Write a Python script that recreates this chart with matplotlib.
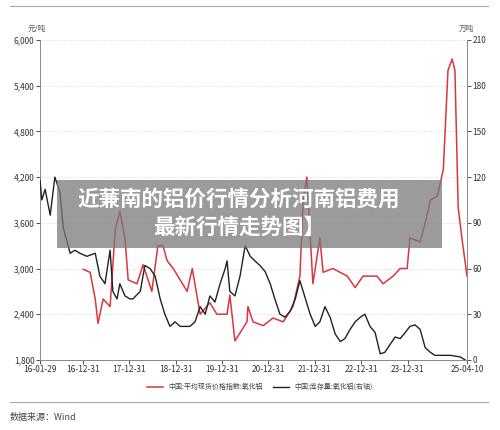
import matplotlib
matplotlib.use('Agg')
import matplotlib.pyplot as plt
from matplotlib.lines import Line2D
from matplotlib.patches import Rectangle

plt.rcParams['font.family'] = ['Noto Sans CJK SC', 'DejaVu Sans']

# price index (yuan/t), time in fractional years
price_t = [2017.01, 2017.16, 2017.27, 2017.33, 2017.44, 2017.59, 2017.70, 2017.80, 2017.91, 2017.98,
           2018.17, 2018.30, 2018.49, 2018.62, 2018.73, 2018.82, 2018.95, 2019.25, 2019.36, 2019.53,
           2019.74, 2019.89, 2020.11, 2020.17, 2020.28, 2020.54, 2020.56, 2020.67, 2020.89, 2021.10,
           2021.32, 2021.53, 2021.68, 2021.75, 2021.83, 2021.96, 2022.11, 2022.18, 2022.39, 2022.70,
           2022.87, 2023.04, 2023.34, 2023.47, 2023.69, 2023.84, 2023.99, 2024.05, 2024.27, 2024.38,
           2024.49, 2024.64, 2024.77, 2024.87, 2024.96, 2025.02, 2025.09, 2025.17, 2025.28]
price = [2990, 2950, 2600, 2280, 2600, 2500, 3500, 3750, 3400, 2850,
         2800, 3050, 2700, 3300, 3300, 3100, 3000, 2700, 3000, 2400,
         2550, 2400, 2400, 2650, 2050, 2300, 2500, 2300, 2250, 2350,
         2300, 2500, 2900, 3900, 4200, 2800, 3400, 2950, 3000, 2900,
         2750, 2900, 2900, 2800, 2900, 3000, 3000, 3400, 3350, 3600,
         3900, 3950, 4300, 5600, 5750, 5600, 3800, 3400, 2900]

# inventory (10k t), right axis
stock_t = [2016.08, 2016.12, 2016.19, 2016.30, 2016.40, 2016.51, 2016.58, 2016.73, 2016.83, 2016.94,
           2017.09, 2017.27, 2017.37, 2017.48, 2017.59, 2017.65, 2017.74, 2017.80, 2017.91, 2018.02,
           2018.08, 2018.24, 2018.34, 2018.45, 2018.56, 2018.67, 2018.77, 2018.88, 2018.99, 2019.10,
           2019.31, 2019.42, 2019.53, 2019.64, 2019.74, 2019.85, 2019.96, 2020.07, 2020.11, 2020.17,
           2020.28, 2020.39, 2020.50, 2020.61, 2020.71, 2020.82, 2020.93, 2021.04, 2021.14, 2021.25,
           2021.36, 2021.47, 2021.58, 2021.68, 2021.75, 2021.90, 2022.01, 2022.11, 2022.22, 2022.33,
           2022.44, 2022.55, 2022.65, 2022.76, 2022.87, 2022.98, 2023.08, 2023.19, 2023.30, 2023.41,
           2023.51, 2023.62, 2023.73, 2023.84, 2023.95, 2024.05, 2024.16, 2024.27, 2024.38, 2024.49,
           2024.59, 2024.70, 2024.92, 2025.13, 2025.24]
stock = [118, 105, 112, 95, 120, 110, 87, 70, 72, 70,
         68, 70, 55, 50, 72, 45, 40, 50, 42, 40,
         40, 45, 62, 60, 55, 40, 30, 22, 25, 22,
         22, 25, 35, 30, 42, 38, 50, 60, 65, 45,
         42, 55, 75, 68, 65, 62, 58, 50, 40, 30,
         28, 32, 40, 52, 45, 30, 22, 25, 35, 28,
         17, 12, 14, 20, 25, 28, 30, 22, 18, 4,
         5, 10, 15, 14, 18, 22, 23, 20, 8, 5,
         3, 3, 3, 2, 0]

tick_pos = [2016.08, 2017.0, 2018.0, 2019.0, 2020.0, 2021.0, 2022.0, 2023.0, 2024.0, 2025.28]
tick_lab = ['16-01-29', '16-12-31', '17-12-31', '18-12-31', '19-12-31',
            '20-12-31', '21-12-31', '22-12-31', '23-12-31', '25-04-10']

red = '#d9363e'

fig = plt.figure(figsize=(5, 4.3), dpi=100)
ax = fig.add_axes([0.08, 0.163, 0.854, 0.744])
ax2 = ax.twinx()

ax.plot(price_t, price, color=red, lw=1.1)
ax2.plot(stock_t, stock, color='#222222', lw=1.0)

ax.set_xlim(2016.08, 2025.28)
ax.set_ylim(1800, 6000)
ax2.set_ylim(0, 210)
ax.set_yticks(range(1800, 6001, 600))
ax.set_yticklabels([f'{v:,}' for v in range(1800, 6001, 600)])
ax2.set_yticks(range(0, 211, 30))
ax.set_xticks(tick_pos)
ax.set_xticklabels(tick_lab)
ax.grid(axis='y', ls=(0, (2, 2)), color='#dddddd', lw=0.6)

for a in (ax, ax2):
    for s in a.spines.values():
        s.set_visible(False)
    a.tick_params(labelsize=6, colors='#333333', length=3, width=0.6, pad=1)
ax.spines['left'].set_visible(True)
ax.spines['bottom'].set_visible(True)
ax2.spines['right'].set_visible(True)
for s in (ax.spines['left'], ax.spines['bottom'], ax2.spines['right']):
    s.set_color('#888888')
    s.set_linewidth(0.7)

fig.text(0.056, 0.928, '元/吨', fontsize=5.5, color='#555555')
fig.text(0.918, 0.928, '万吨', fontsize=5.5, color='#555555')

handles = [Line2D([], [], color=red, lw=1.1), Line2D([], [], color='#222222', lw=1.0)]
fig.legend(handles, ['中国:平均现货价格指数:氧化铝', '中国:库存量:氧化铝(右轴)'],
           loc='center', bbox_to_anchor=(0.52, 0.1), ncol=2, frameon=False,
           fontsize=5, handlelength=2.2, columnspacing=1.5, labelcolor='#444444')

fig.add_artist(Line2D([0.02, 0.976], [0.986, 0.986], color='#aaaaaa', lw=0.8))
fig.add_artist(Line2D([0.02, 0.976], [0.065, 0.065], color='#aaaaaa', lw=0.8))
fig.text(0.02, 0.03, '数据来源：Wind', fontsize=6.5, color='#444444', va='center')

# overlay banner
fig.add_artist(Rectangle((0.114, 0.423), 0.77, 0.158, transform=fig.transFigure,
                         facecolor='#7a7a7a', alpha=0.75, edgecolor='none'))
fig.text(0.478, 0.536, '近蒹南的铝价行情分析河南铝费用', fontsize=15.5, fontweight='bold',
         color='white', ha='center', va='center')
fig.text(0.478, 0.472, '最新行情走势图】', fontsize=15.5, fontweight='bold',
         color='white', ha='center', va='center')

fig.savefig('out.png', dpi=100)
